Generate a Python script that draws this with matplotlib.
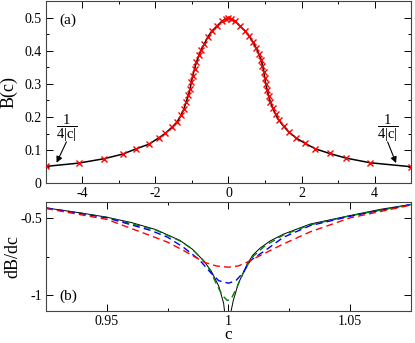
import matplotlib
matplotlib.use("Agg")
import matplotlib.pyplot as plt
from matplotlib.ticker import MultipleLocator, FormatStrFormatter

plt.rcParams['font.family'] = ['Liberation Serif', 'DejaVu Serif']
plt.rcParams['mathtext.fontset'] = 'custom'
plt.rcParams['mathtext.rm'] = 'Liberation Serif'
plt.rcParams['mathtext.it'] = 'Liberation Serif:italic'
plt.rcParams['axes.unicode_minus'] = False

# panel (a): B(c)
c_pts = [-5.0, -4.10, -3.42, -2.90, -2.53, -2.18, -1.91, -1.73, -1.54, -1.41,
         -1.30, -1.22, -1.16, -1.10, -1.05, -1.02, -0.98, -0.93, -0.88, -0.81,
         -0.75, -0.66, -0.57, -0.46, -0.32, -0.18, -0.07, 0.0,
         0.07, 0.18, 0.32, 0.46, 0.575, 0.67, 0.76, 0.83, 0.90, 0.93,
         0.97, 0.995, 1.02, 1.06, 1.10, 1.15, 1.21, 1.29, 1.38, 1.51,
         1.65, 1.85, 2.09, 2.38, 2.77, 3.22, 3.88, 5.0]
B_pts = [0.051, 0.061, 0.074, 0.088, 0.104, 0.118, 0.137, 0.151, 0.170, 0.185,
         0.205, 0.225, 0.245, 0.265, 0.285, 0.305, 0.325, 0.345, 0.365, 0.386,
         0.403, 0.421, 0.441, 0.459, 0.474, 0.489, 0.497, 0.500,
         0.497, 0.489, 0.474, 0.459, 0.443, 0.425, 0.408, 0.390, 0.372, 0.355,
         0.337, 0.318, 0.300, 0.282, 0.263, 0.245, 0.227, 0.208, 0.190, 0.172,
         0.155, 0.137, 0.121, 0.104, 0.090, 0.076, 0.062, 0.050]

# panel (b): dB/dc near c = 1
c_exact = [0.925, 0.94, 0.95, 0.96, 0.97, 0.98, 0.985, 0.99, 0.993, 0.996,
           0.998, 0.9985, 0.9996, 1.0008, 1.002, 1.004, 1.0076, 1.010, 1.013, 1.017,
           1.0226, 1.0336, 1.05, 1.0625, 1.075]
d_exact = [-0.436, -0.47, -0.496, -0.53, -0.575, -0.645, -0.70, -0.78, -0.845, -0.94,
           -1.05, -1.12, -1.40, -1.12, -1.03, -0.925, -0.80, -0.74, -0.695, -0.65,
           -0.605, -0.54, -0.485, -0.445, -0.414]

c_green = [0.925, 0.95, 0.97, 0.98, 0.985, 0.99, 0.9925, 0.995, 0.9975, 0.9995,
           1.001, 1.0034, 1.0068, 1.01, 1.015, 1.0226, 1.0336, 1.05, 1.075]
d_green = [-0.436, -0.497, -0.578, -0.648, -0.70, -0.78, -0.84, -0.925, -1.00, -1.032,
           -1.025, -0.95, -0.83, -0.75, -0.68, -0.61, -0.545, -0.487, -0.414]

c_blue = [0.925, 0.95, 0.9678, 0.975, 0.9815, 0.988, 0.9925, 0.996, 1.0, 1.003,
          1.0062, 1.009, 1.016, 1.0226, 1.0336, 1.05, 1.075]
d_blue = [-0.437, -0.50, -0.58, -0.625, -0.69, -0.77, -0.85, -0.905, -0.921, -0.905,
          -0.85, -0.775, -0.70, -0.625, -0.55, -0.49, -0.414]

c_red = [0.925, 0.95, 0.9678, 0.975, 0.9815, 0.99, 0.995, 1.0, 1.004, 1.0076,
         1.013, 1.0226, 1.0336, 1.05, 1.075]
d_red = [-0.44, -0.51, -0.614, -0.657, -0.71, -0.786, -0.81, -0.818, -0.81, -0.786,
         -0.743, -0.668, -0.59, -0.50, -0.418]

fig = plt.figure(figsize=(4.15, 3.43), dpi=100)
ax1 = fig.add_axes([0.1108, 0.4656, 0.8796, 0.5314])
ax2 = fig.add_axes([0.1108, 0.0933, 0.8796, 0.3169])

ax1.plot(c_pts, B_pts, color='k', lw=1.1, zorder=2)
ax1.plot(c_pts, B_pts, ls='none', marker='x', color='red', ms=5, mew=1.0, zorder=3)
ax1.set_xlim(-5, 5)
ax1.set_ylim(0, 0.55)
ax1.xaxis.set_major_locator(MultipleLocator(2))
ax1.xaxis.set_minor_locator(MultipleLocator(1))
ax1.yaxis.set_major_locator(MultipleLocator(0.1))
ax1.yaxis.set_minor_locator(MultipleLocator(0.05))
ax1.yaxis.set_major_formatter(FormatStrFormatter('%g'))
ax1.set_ylabel('B(c)', fontsize=13)
ax1.text(0.036, 0.895, '(a)', transform=ax1.transAxes, fontsize=11, va='center')

frac = r'$\dfrac{1}{4|\mathrm{c}|}$'
arrow = dict(arrowstyle='-|>', color='k', lw=0.8, mutation_scale=9,
             shrinkA=0, shrinkB=0)
ax1.text(-4.44, 0.166, frac, fontsize=10.5, ha='center', va='center')
ax1.annotate('', xy=(-4.71, 0.062), xytext=(-4.44, 0.125), arrowprops=arrow)
ax1.text(4.36, 0.166, frac, fontsize=10.5, ha='center', va='center')
ax1.annotate('', xy=(4.59, 0.061), xytext=(4.36, 0.125), arrowprops=arrow)

ax2.plot(c_exact, d_exact, color='k', lw=0.7)
ax2.plot(c_green, d_green, color='green', lw=1.0, dashes=(5, 3))
ax2.plot(c_blue, d_blue, color='blue', lw=1.0, dashes=(5, 3))
ax2.plot(c_red, d_red, color='red', lw=1.0, dashes=(5, 3))
ax2.set_xlim(0.925, 1.075)
ax2.set_ylim(-1.1, -0.4)
ax2.xaxis.set_major_locator(MultipleLocator(0.05))
ax2.xaxis.set_minor_locator(MultipleLocator(0.025))
ax2.yaxis.set_major_locator(MultipleLocator(0.5))
ax2.yaxis.set_minor_locator(MultipleLocator(0.25))
ax2.xaxis.set_major_formatter(FormatStrFormatter('%g'))
ax2.yaxis.set_major_formatter(FormatStrFormatter('%g'))
ax2.set_xlabel('c', fontsize=12.5)
ax2.set_ylabel('dB/dc', fontsize=13)
ax2.text(0.038, 0.14, '(b)', transform=ax2.transAxes, fontsize=11, va='center')

for ax in (ax1, ax2):
    ax.tick_params(which='both', direction='in', top=True, right=True,
                   labelsize=10, width=0.7, pad=3)
    ax.tick_params(which='major', length=5)
    ax.tick_params(which='minor', length=2.5)
    for s in ax.spines.values():
        s.set_linewidth(0.8)
        s.set_color('#444444')

ax1.yaxis.set_label_coords(-0.078, 0.5)
ax2.yaxis.set_label_coords(-0.068, 0.5)
ax2.xaxis.set_label_coords(0.5, -0.15)

fig.savefig('out.png', dpi=100)
